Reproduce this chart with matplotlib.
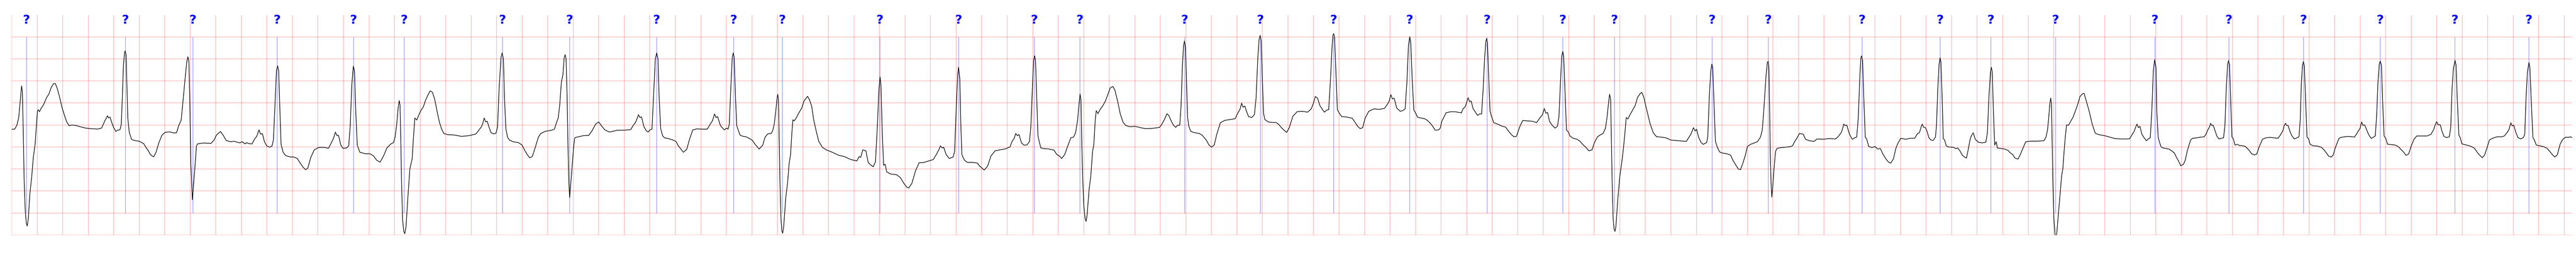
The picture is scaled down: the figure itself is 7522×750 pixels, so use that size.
import numpy as np
import matplotlib
matplotlib.use("Agg")
import matplotlib.pyplot as plt

# Signal ECG (temps en s, amplitude en mV), par morceaux
seg_a = [(0.000, -0.097), (0.023, -0.097), (0.041, -0.007), (0.055, 0.160), (0.067, 0.534), (0.078, 0.888),
         (0.084, 0.757), (0.091, -0.138), (0.098, -1.257), (0.107, -1.966), (0.115, -2.228), (0.122, -2.295),
         (0.131, -2.116), (0.143, -1.556), (0.157, -1.183), (0.170, -0.735), (0.184, -0.437), (0.194, -0.026),
         (0.202, 0.310), (0.208, 0.347), (0.218, 0.299), (0.232, 0.384), (0.250, 0.459), (0.274, 0.623),
         (0.292, 0.701), (0.310, 0.851), (0.328, 0.937), (0.343, 0.937), (0.359, 0.813), (0.376, 0.627),
         (0.394, 0.403), (0.412, 0.235), (0.430, 0.078), (0.451, -0.019), (0.472, 0.000), (0.508, -0.015),
         (0.544, -0.045), (0.580, -0.071), (0.628, -0.086), (0.675, -0.093), (0.705, -0.071), (0.729, 0.086),
         (0.751, 0.209), (0.759, 0.160), (0.771, 0.179), (0.783, 0.067), (0.797, -0.045), (0.816, -0.146),
         (0.831, -0.119), (0.849, -0.108), (0.859, 0.011), (0.867, 0.608), (0.876, 1.354), (0.885, 1.653),
         (0.890, 1.679), (0.897, 1.578), (0.903, 0.907), (0.910, 0.160), (0.921, -0.157), (0.931, -0.250),
         (0.939, -0.325), (0.963, -0.354), (0.999, -0.369), (1.035, -0.425), (1.053, -0.511), (1.071, -0.586),
         (1.089, -0.679), (1.113, -0.724), (1.131, -0.623), (1.154, -0.399), (1.178, -0.231), (1.202, -0.168),
         (1.238, -0.157), (1.274, -0.183), (1.292, -0.175), (1.310, -0.007), (1.328, 0.104), (1.340, 0.459),
         (1.358, 1.019), (1.372, 1.429), (1.381, 1.549), (1.389, 1.429), (1.396, 0.534), (1.404, -0.884),
         (1.416, -1.698), (1.425, -1.369), (1.438, -0.884), (1.448, -0.474), (1.457, -0.429), (1.502, -0.410),
         (1.562, -0.418), (1.586, -0.343), (1.604, -0.231), (1.636, -0.149), (1.657, -0.231), (1.681, -0.354),
         (1.717, -0.381), (1.741, -0.369), (1.787, -0.407)]

seg_b = [(1.806, -0.381), (1.830, -0.430), (1.842, -0.401), (1.860, -0.424), (1.884, -0.430), (1.902, -0.325),
         (1.920, -0.259), (1.938, -0.112), (1.950, -0.210), (1.964, -0.194), (1.980, -0.374), (1.998, -0.473),
         (2.022, -0.506), (2.040, -0.479), (2.051, -0.341), (2.066, 0.643), (2.075, 1.234), (2.084, 1.343),
         (2.092, 1.234), (2.102, 0.315), (2.111, -0.440), (2.127, -0.620), (2.147, -0.696), (2.183, -0.726),
         (2.207, -0.726), (2.237, -0.758), (2.261, -0.867), (2.285, -0.965), (2.303, -1.014), (2.320, -0.982),
         (2.344, -0.735), (2.371, -0.565), (2.405, -0.512), (2.441, -0.506), (2.483, -0.529), (2.507, -0.391),
         (2.521, -0.309), (2.537, -0.161), (2.549, -0.243), (2.561, -0.236), (2.579, -0.456), (2.596, -0.532),
         (2.624, -0.522), (2.641, -0.473), (2.653, -0.013), (2.665, 0.906), (2.677, 1.333), (2.686, 1.234),
         (2.696, 0.315), (2.708, -0.456), (2.728, -0.620), (2.770, -0.653), (2.806, -0.653), (2.836, -0.703),
         (2.860, -0.801), (2.887, -0.844), (2.914, -0.703), (2.940, -0.522), (2.974, -0.424), (2.992, -0.401),
         (3.004, -0.276), (3.016, -0.013), (3.028, 0.381), (3.037, 0.552), (3.043, 0.446), (3.049, -0.341),
         (3.055, -1.326), (3.063, -2.147), (3.072, -2.410), (3.080, -2.469), (3.090, -2.311), (3.105, -1.622),
         (3.120, -0.998), (3.138, -0.768), (3.147, -0.341), (3.159, 0.158), (3.174, 0.112), (3.189, 0.217),
         (3.207, 0.332), (3.225, 0.407), (3.243, 0.561), (3.261, 0.676), (3.279, 0.775), (3.297, 0.742),
         (3.315, 0.578), (3.333, 0.315), (3.351, 0.069), (3.369, -0.095), (3.387, -0.194), (3.417, -0.220),
         (3.465, -0.227), (3.525, -0.259), (3.584, -0.243), (3.638, -0.204), (3.666, -0.095)]

seg_c = [(3.678, -0.053), (3.690, 0.020), (3.702, 0.158), (3.714, 0.069), (3.726, 0.085), (3.740, -0.046),
         (3.756, -0.177), (3.780, -0.204), (3.795, -0.184), (3.807, -0.046), (3.819, 0.808), (3.834, 1.530),
         (3.843, 1.635), (3.853, 1.497), (3.861, 0.643), (3.872, -0.079), (3.885, -0.276), (3.899, -0.341),
         (3.929, -0.381), (3.971, -0.401), (3.999, -0.456), (4.019, -0.571), (4.039, -0.670), (4.059, -0.745),
         (4.079, -0.719), (4.103, -0.506), (4.127, -0.276), (4.145, -0.194), (4.181, -0.144), (4.229, -0.121),
         (4.253, -0.095), (4.265, 0.020), (4.283, 0.167), (4.295, 0.479), (4.307, 0.972), (4.319, 1.136),
         (4.329, 1.530), (4.337, 1.596), (4.344, 1.497), (4.352, 0.643), (4.359, -0.506), (4.366, -1.326),
         (4.372, -1.648), (4.378, -1.425), (4.390, -0.998), (4.402, -0.538), (4.411, -0.299), (4.420, -0.282),
         (4.444, -0.266), (4.480, -0.243), (4.522, -0.236), (4.546, -0.138), (4.576, 0.020), (4.600, 0.069),
         (4.624, -0.030), (4.648, -0.112), (4.684, -0.161), (4.744, -0.121), (4.804, -0.118), (4.851, -0.105),
         (4.869, -0.013), (4.887, 0.053), (4.899, 0.135), (4.911, 0.233), (4.923, 0.167), (4.935, 0.184),
         (4.953, -0.030), (4.971, -0.128), (4.987, -0.161), (5.001, -0.112), (5.017, -0.095), (5.029, 0.643),
         (5.043, 1.497), (5.054, 1.635), (5.064, 1.497), (5.073, 0.643), (5.085, -0.079), (5.100, -0.243),
         (5.115, -0.292), (5.145, -0.309), (5.181, -0.341), (5.205, -0.374), (5.223, -0.473), (5.241, -0.538),
         (5.263, -0.620), (5.289, -0.555), (5.313, -0.309), (5.337, -0.112), (5.367, -0.089), (5.414, -0.095),
         (5.450, -0.095), (5.474, 0.020), (5.492, 0.102), (5.507, 0.250), (5.519, 0.167), (5.531, 0.190),
         (5.544, 0.069)]

seg_d = [(5.553, -0.013), (5.568, -0.062), (5.583, -0.112), (5.601, -0.072), (5.613, -0.095), (5.623, 0.020),
         (5.634, 0.808), (5.646, 1.530), (5.654, 1.635), (5.661, 1.530), (5.671, 0.643), (5.681, -0.013),
         (5.690, -0.095), (5.706, -0.227), (5.724, -0.253), (5.754, -0.269), (5.777, -0.302), (5.801, -0.341),
         (5.825, -0.440), (5.857, -0.548), (5.885, -0.456), (5.903, -0.276), (5.925, -0.200), (5.951, -0.194),
         (5.963, -0.128), (5.975, 0.020), (5.987, 0.315), (5.996, 0.578), (6.002, 0.699), (6.008, 0.578),
         (6.014, -0.341), (6.020, -1.326), (6.028, -2.147), (6.035, -2.410), (6.041, -2.459), (6.049, -2.311),
         (6.065, -1.655), (6.079, -1.326), (6.092, -0.867), (6.103, -0.670), (6.113, -0.177), (6.121, 0.118),
         (6.131, 0.092), (6.149, 0.167), (6.169, 0.282), (6.190, 0.381), (6.208, 0.545), (6.224, 0.604),
         (6.236, 0.650), (6.250, 0.578), (6.268, 0.430), (6.284, 0.118), (6.304, -0.144), (6.324, -0.374),
         (6.352, -0.506), (6.382, -0.565), (6.430, -0.620), (6.478, -0.686), (6.526, -0.719), (6.574, -0.785),
         (6.622, -0.817), (6.640, -0.719), (6.652, -0.735), (6.669, -0.565), (6.693, -0.588), (6.711, -0.850),
         (6.729, -0.906), (6.751, -0.949), (6.768, -0.834), (6.783, -0.013), (6.795, 0.808), (6.804, 1.093),
         (6.811, 0.906), (6.821, -0.177), (6.832, -0.916), (6.844, -0.893), (6.856, -1.064), (6.886, -1.113),
         (6.933, -1.129), (6.963, -1.195), (6.987, -1.310), (7.011, -1.408), (7.029, -1.431), (7.053, -1.326),
         (7.083, -1.031), (7.110, -0.860), (7.149, -0.850), (7.185, -0.817), (7.221, -0.785), (7.245, -0.670),
         (7.266, -0.555), (7.277, -0.473), (7.290, -0.522), (7.302, -0.506), (7.322, -0.670), (7.346, -0.762),
         (7.376, -0.729), (7.388, -0.604), (7.400, 0.315), (7.412, 1.136), (7.419, 1.310)]

seg_e = [(7.429, 1.037), (7.437, -0.013), (7.445, -0.670), (7.454, -0.735), (7.466, -0.801), (7.488, -0.850),
         (7.530, -0.850), (7.567, -0.867), (7.583, -0.932), (7.604, -0.982), (7.620, -1.024), (7.647, -0.932),
         (7.673, -0.703), (7.705, -0.588), (7.742, -0.565), (7.785, -0.545), (7.822, -0.499), (7.838, -0.374),
         (7.854, -0.309), (7.867, -0.194), (7.880, -0.243), (7.893, -0.217), (7.912, -0.407), (7.931, -0.456),
         (7.954, -0.456), (7.975, -0.374), (7.986, -0.013), (7.997, 0.808), (8.007, 1.464), (8.015, 1.573),
         (8.022, 1.464), (8.031, 0.643), (8.041, -0.243), (8.052, -0.391), (8.064, -0.522), (8.092, -0.538),
         (8.124, -0.545), (8.167, -0.571), (8.188, -0.670), (8.209, -0.703), (8.227, -0.762), (8.251, -0.670),
         (8.273, -0.489), (8.299, -0.292), (8.320, -0.276), (8.336, -0.177), (8.352, 0.118), (8.363, 0.479),
         (8.371, 0.703), (8.378, 0.578), (8.384, -0.341), (8.391, -1.162), (8.400, -1.819), (8.410, -2.114),
         (8.418, -2.190), (8.426, -2.049), (8.442, -1.458), (8.455, -1.162), (8.469, -0.604), (8.479, -0.440),
         (8.490, 0.118), (8.498, 0.325), (8.511, 0.256), (8.527, 0.348), (8.548, 0.430), (8.570, 0.545),
         (8.591, 0.709), (8.607, 0.840), (8.628, 0.873), (8.644, 0.791), (8.665, 0.545), (8.686, 0.250),
         (8.707, 0.069), (8.729, -0.013), (8.760, -0.039), (8.803, -0.030), (8.845, -0.062), (8.888, -0.085),
         (8.930, -0.079), (8.993, -0.056), (9.009, 0.003), (9.031, 0.118), (9.052, 0.256), (9.066, 0.217)]

seg_f = [(9.086, 0.086), (9.103, -0.007), (9.121, -0.056), (9.134, -0.007), (9.152, -0.007), (9.162, 0.422),
         (9.173, 1.354), (9.182, 1.802), (9.189, 1.907), (9.197, 1.765), (9.205, 0.981), (9.214, 0.160),
         (9.223, -0.026), (9.237, -0.138), (9.257, -0.168), (9.305, -0.194), (9.327, -0.231), (9.360, -0.343),
         (9.381, -0.455), (9.401, -0.504), (9.422, -0.455), (9.442, -0.213), (9.470, 0.049), (9.504, 0.104),
         (9.545, 0.123), (9.586, 0.142), (9.607, 0.272), (9.623, 0.347), (9.637, 0.496), (9.648, 0.403),
         (9.662, 0.429), (9.675, 0.310), (9.691, 0.190), (9.716, 0.168), (9.737, 0.235), (9.750, 0.608),
         (9.764, 1.541), (9.774, 1.951), (9.782, 2.034), (9.790, 1.914), (9.798, 1.168), (9.808, 0.272),
         (9.819, 0.123), (9.846, 0.067), (9.880, 0.056), (9.908, 0.056), (9.928, 0.011), (9.949, -0.063),
         (9.969, -0.119), (9.990, -0.168), (10.010, -0.063), (10.038, 0.198), (10.072, 0.302), (10.113, 0.310),
         (10.154, 0.291), (10.182, 0.366), (10.200, 0.496), (10.214, 0.646), (10.232, 0.608), (10.250, 0.440),
         (10.271, 0.347), (10.285, 0.291), (10.305, 0.340), (10.319, 0.347), (10.332, 0.981), (10.346, 1.802),
         (10.353, 2.045), (10.358, 2.075), (10.365, 1.989), (10.376, 1.168), (10.387, 0.347), (10.401, 0.272),
         (10.421, 0.190), (10.462, 0.179), (10.503, 0.153), (10.524, 0.067), (10.545, -0.026), (10.565, -0.082),
         (10.585, -0.063), (10.605, 0.160), (10.633, 0.310), (10.674, 0.366), (10.715, 0.354), (10.756, 0.377),
         (10.777, 0.459), (10.793, 0.541), (10.806, 0.690), (10.818, 0.590), (10.832, 0.608), (10.852, 0.384),
         (10.880, 0.310), (10.900, 0.328), (10.918, 0.366), (10.932, 0.981), (10.944, 1.802), (10.954, 2.004),
         (10.962, 1.877), (10.973, 1.056), (10.986, 0.340), (11.000, 0.272), (11.014, 0.179), (11.037, 0.160),
         (11.071, 0.142), (11.092, 0.104), (11.112, 0.049), (11.133, -0.026), (11.153, -0.119)]

seg_g = [(11.180, -0.112), (11.193, -0.072), (11.205, 0.085), (11.223, 0.184), (11.238, 0.276), (11.273, 0.299),
         (11.310, 0.299), (11.359, 0.276), (11.371, 0.364), (11.390, 0.420), (11.400, 0.512), (11.411, 0.620),
         (11.423, 0.529), (11.435, 0.545), (11.451, 0.364), (11.467, 0.299), (11.485, 0.217), (11.501, 0.250),
         (11.517, 0.250), (11.529, 0.808), (11.541, 1.530), (11.550, 1.891), (11.556, 1.963), (11.563, 1.858),
         (11.572, 1.136), (11.583, 0.315), (11.596, 0.184), (11.612, 0.053), (11.642, 0.020), (11.679, -0.030),
         (11.704, -0.046), (11.729, -0.144), (11.753, -0.227), (11.772, -0.269), (11.790, -0.259), (11.815, -0.046),
         (11.839, 0.102), (11.876, 0.092), (11.913, 0.085), (11.948, 0.053), (11.975, 0.167), (11.994, 0.233),
         (12.008, 0.374), (12.021, 0.266), (12.034, 0.282), (12.049, 0.085), (12.067, 0.003), (12.092, -0.072),
         (12.111, -0.030), (12.123, 0.184), (12.135, 0.972), (12.145, 1.563), (12.153, 1.668), (12.160, 1.563),
         (12.170, 0.808), (12.182, -0.112), (12.197, -0.161), (12.209, -0.250), (12.234, -0.302), (12.265, -0.325),
         (12.289, -0.374), (12.314, -0.456), (12.339, -0.522), (12.357, -0.588), (12.382, -0.565), (12.400, -0.407),
         (12.425, -0.269), (12.446, -0.227), (12.468, -0.194), (12.487, -0.079), (12.499, 0.151), (12.512, 0.512),
         (12.520, 0.699), (12.528, 0.578), (12.534, -0.341), (12.540, -1.326), (12.548, -2.147), (12.555, -2.361),
         (12.562, -2.416), (12.569, -2.311), (12.585, -1.655), (12.600, -1.162), (12.616, -0.834), (12.628, -0.538),
         (12.640, -0.177), (12.650, 0.167), (12.663, 0.135), (12.680, 0.233), (12.702, 0.348), (12.721, 0.446),
         (12.739, 0.627), (12.757, 0.703), (12.772, 0.742), (12.788, 0.627), (12.813, 0.315), (12.838, 0.020),
         (12.862, -0.177), (12.887, -0.266), (12.924, -0.276), (12.961, -0.292), (12.998, -0.341), (13.057, -0.358)]

seg_h = [(13.085, -0.364), (13.121, -0.374), (13.139, -0.292), (13.157, -0.210), (13.177, -0.062), (13.190, -0.138),
         (13.201, -0.095), (13.217, -0.276), (13.235, -0.391), (13.253, -0.440), (13.280, -0.401), (13.289, -0.276),
         (13.301, 0.643), (13.313, 1.234), (13.321, 1.382), (13.328, 1.300), (13.338, 0.479), (13.349, -0.374),
         (13.364, -0.506), (13.381, -0.611), (13.402, -0.637), (13.438, -0.653), (13.468, -0.686), (13.486, -0.801),
         (13.510, -0.916), (13.528, -0.998), (13.546, -1.014), (13.564, -0.867), (13.582, -0.703), (13.600, -0.489),
         (13.624, -0.440), (13.654, -0.407), (13.678, -0.381), (13.702, -0.276), (13.716, -0.112), (13.726, 0.250),
         (13.738, 0.775), (13.746, 1.136), (13.756, 1.415), (13.762, 1.448), (13.768, 1.300), (13.773, 0.479),
         (13.779, -0.670), (13.785, -1.326), (13.791, -1.638), (13.800, -1.326), (13.808, -0.998), (13.820, -0.604),
         (13.830, -0.538), (13.844, -0.522), (13.893, -0.506), (13.940, -0.489), (13.953, -0.473), (13.971, -0.374),
         (13.989, -0.292), (14.007, -0.194), (14.037, -0.210), (14.055, -0.325), (14.085, -0.358), (14.121, -0.374),
         (14.145, -0.318), (14.193, -0.325), (14.241, -0.309), (14.289, -0.318), (14.313, -0.259), (14.337, -0.161),
         (14.355, 0.020), (14.363, -0.013), (14.378, -0.003), (14.399, -0.210), (14.421, -0.325), (14.439, -0.292),
         (14.456, -0.276), (14.468, 0.151), (14.481, 1.136), (14.489, 1.530), (14.495, 1.569), (14.502, 1.464),
         (14.511, 0.643), (14.523, -0.276), (14.535, -0.325), (14.550, -0.489), (14.576, -0.512), (14.600, -0.489),
         (14.618, -0.545), (14.642, -0.538), (14.660, -0.653), (14.684, -0.768), (14.702, -0.834), (14.722, -0.867),
         (14.744, -0.768), (14.762, -0.538), (14.780, -0.407), (14.801, -0.302), (14.840, -0.325), (14.876, -0.302),
         (14.910, -0.302), (14.933, -0.194)]

seg_i = [(14.947, -0.177), (14.959, -0.062), (14.969, 0.020), (14.981, -0.053), (14.995, -0.062), (15.007, -0.144),
         (15.022, -0.292), (15.037, -0.341), (15.055, -0.351), (15.073, -0.276), (15.081, -0.013), (15.091, 0.808),
         (15.101, 1.366), (15.109, 1.523), (15.116, 1.431), (15.125, 0.643), (15.134, -0.309), (15.145, -0.341),
         (15.157, -0.473), (15.175, -0.499), (15.211, -0.506), (15.235, -0.538), (15.247, -0.522), (15.265, -0.588),
         (15.283, -0.686), (15.301, -0.729), (15.316, -0.752), (15.331, -0.538), (15.343, -0.341), (15.355, -0.243),
         (15.369, -0.177), (15.385, -0.325), (15.409, -0.391), (15.438, -0.407), (15.468, -0.391), (15.480, -0.177),
         (15.492, 0.643), (15.504, 1.202), (15.511, 1.310), (15.518, 1.202), (15.527, 0.315), (15.537, -0.456),
         (15.549, -0.381), (15.558, -0.522), (15.582, -0.532), (15.612, -0.545), (15.642, -0.578), (15.660, -0.637),
         (15.678, -0.670), (15.696, -0.752), (15.720, -0.775), (15.738, -0.670), (15.762, -0.506), (15.780, -0.381),
         (15.822, -0.368), (15.869, -0.368), (15.923, -0.358), (15.939, -0.276), (15.951, -0.112), (15.960, 0.151),
         (15.969, 0.479), (15.976, 0.611), (15.982, 0.479), (15.987, -0.341), (15.993, -1.326), (16.001, -2.147),
         (16.010, -2.475), (16.017, -2.600), (16.025, -2.410), (16.037, -1.983), (16.049, -1.589), (16.061, -1.162),
         (16.071, -0.998), (16.079, -0.670), (16.088, -0.341), (16.100, 0.003), (16.115, -0.007), (16.133, 0.085),
         (16.151, 0.177), (16.169, 0.315), (16.187, 0.463), (16.205, 0.643), (16.223, 0.703), (16.237, 0.719),
         (16.253, 0.561), (16.277, 0.315), (16.301, 0.020), (16.325, -0.187), (16.349, -0.217), (16.397, -0.243),
         (16.439, -0.276), (16.480, -0.309), (16.528, -0.318), (16.570, -0.318), (16.594, -0.315), (16.612, -0.227),
         (16.630, -0.144), (16.642, -0.046), (16.652, 0.020), (16.663, -0.062), (16.675, -0.030), (16.690, -0.210),
         (16.708, -0.292), (16.726, -0.358), (16.742, -0.315), (16.756, -0.292), (16.768, 0.315), (16.780, 1.234),
         (16.790, 1.481), (16.801, 1.300), (16.807, 0.315)]

seg_j = [(16.818, -0.276), (16.825, -0.358), (16.839, -0.489), (16.855, -0.522), (16.876, -0.532), (16.902, -0.548),
         (16.924, -0.588), (16.945, -0.637), (16.961, -0.735), (16.977, -0.817), (16.995, -0.926), (17.016, -0.893),
         (17.030, -0.801), (17.046, -0.588), (17.072, -0.341), (17.088, -0.302), (17.120, -0.292), (17.152, -0.276),
         (17.178, -0.269), (17.194, -0.204), (17.207, -0.112), (17.219, -0.053), (17.229, 0.036), (17.239, -0.013),
         (17.249, -0.007), (17.263, -0.128), (17.279, -0.259), (17.295, -0.318), (17.311, -0.302), (17.330, -0.292),
         (17.341, -0.013), (17.351, 0.808), (17.362, 1.366), (17.369, 1.464), (17.377, 1.366), (17.385, 0.643),
         (17.396, -0.276), (17.406, -0.309), (17.420, -0.456), (17.438, -0.440), (17.454, -0.466), (17.481, -0.473),
         (17.502, -0.489), (17.518, -0.538), (17.534, -0.588), (17.550, -0.653), (17.571, -0.680), (17.590, -0.663),
         (17.608, -0.506), (17.635, -0.325), (17.661, -0.292), (17.693, -0.282), (17.725, -0.292), (17.757, -0.302),
         (17.772, -0.243), (17.794, -0.138), (17.806, -0.013), (17.815, 0.036), (17.825, -0.013), (17.836, -0.013),
         (17.850, -0.144), (17.865, -0.243), (17.884, -0.318), (17.905, -0.292), (17.921, -0.269), (17.931, 0.118),
         (17.940, 0.972), (17.949, 1.366), (17.956, 1.441), (17.963, 1.333), (17.972, 0.643), (17.984, -0.276),
         (17.995, -0.309), (18.009, -0.440), (18.032, -0.473), (18.064, -0.479), (18.096, -0.506), (18.117, -0.565),
         (18.136, -0.637), (18.154, -0.709), (18.173, -0.729), (18.189, -0.686), (18.207, -0.506), (18.234, -0.309),
         (18.250, -0.282), (18.276, -0.269), (18.308, -0.259), (18.340, -0.269), (18.356, -0.276), (18.372, -0.204),
         (18.388, -0.128), (18.400, -0.079), (18.412, 0.069), (18.423, -0.013), (18.435, 0.003)]

seg_k = [(18.450, -0.101), (18.466, -0.213), (18.487, -0.306), (18.503, -0.280), (18.519, -0.250), (18.530, 0.235),
         (18.540, 0.981), (18.551, 1.392), (18.558, 1.448), (18.567, 1.354), (18.578, 0.422), (18.588, -0.250),
         (18.601, -0.306), (18.615, -0.437), (18.636, -0.444), (18.673, -0.455), (18.700, -0.493), (18.721, -0.556),
         (18.743, -0.623), (18.759, -0.690), (18.780, -0.660), (18.801, -0.474), (18.822, -0.325), (18.844, -0.250),
         (18.881, -0.250), (18.924, -0.250), (18.955, -0.213), (18.977, -0.101), (18.987, -0.007), (19.000, 0.075),
         (19.011, 0.004), (19.028, 0.004), (19.041, -0.138), (19.057, -0.261), (19.078, -0.287), (19.099, -0.269),
         (19.110, -0.063), (19.120, 0.795), (19.131, 1.280), (19.144, 1.466), (19.152, 1.354), (19.161, 0.608),
         (19.174, -0.231), (19.184, -0.287), (19.198, -0.429), (19.216, -0.444), (19.248, -0.466), (19.275, -0.493),
         (19.296, -0.530), (19.323, -0.642), (19.341, -0.698), (19.357, -0.743), (19.376, -0.679), (19.397, -0.493),
         (19.413, -0.343), (19.434, -0.306), (19.472, -0.269), (19.509, -0.269), (19.530, -0.250), (19.551, -0.175),
         (19.567, -0.101), (19.581, 0.049), (19.591, -0.019), (19.604, -0.007), (19.621, -0.175), (19.637, -0.287),
         (19.658, -0.317), (19.679, -0.287), (19.690, -0.213), (19.700, 0.608), (19.711, 1.205), (19.723, 1.418),
         (19.730, 1.317), (19.740, 0.608), (19.754, -0.287), (19.764, -0.332), (19.780, -0.455), (19.807, -0.474),
         (19.839, -0.493), (19.865, -0.530), (19.887, -0.604), (19.908, -0.679), (19.926, -0.728), (19.945, -0.679),
         (19.967, -0.437), (19.988, -0.325), (20.009, -0.280), (20.036, -0.280), (20.046, -0.269), (20.062, -0.287)]

# Annotations des battements (symbole '?')
beat_t = [0.116, 0.890, 1.420, 2.080, 2.679, 3.076, 3.844, 4.372, 5.053, 5.655, 6.038, 6.802,
          7.419, 8.012, 8.369, 9.189, 9.782, 10.358, 10.953, 11.558, 12.153, 12.558, 13.322, 13.763,
          14.496, 15.110, 15.507, 16.013, 16.790, 17.370, 17.956, 18.558, 19.143, 19.722]
beat_sym = ["?"] * len(beat_t)

signal = np.array(seg_a + seg_b + seg_c + seg_d + seg_e + seg_f + seg_g + seg_h + seg_i + seg_j + seg_k)
t = signal[:, 0]
v = signal[:, 1]

# Figure
fig = plt.figure(figsize=(75.22, 7.5), dpi=100)
ax = fig.add_axes([34 / 7522, 64 / 750, 7477 / 7522, 642 / 750])

ax.set_xlim(0, 20.062)
ax.set_ylim(-2.5, 2.495)

# grille papier ECG
ax.set_xticks(np.arange(0, 20.01, 0.2))
ax.set_yticks(np.arange(-2.5, 2.01, 0.5))
ax.grid(True, color="red", alpha=0.25, linewidth=1.5)
ax.set_axisbelow(True)
ax.tick_params(length=0, labelbottom=False, labelleft=False)
for s in ax.spines.values():
    s.set_visible(False)

ax.plot(t, v, color="black", linewidth=1.3, zorder=3)

ax.vlines(beat_t, -2.0, 2.0, color="blue", alpha=0.5, linewidth=1, zorder=2)
for bt, sym in zip(beat_t, beat_sym):
    ax.text(bt, 2.30, sym, ha="center", va="baseline", color="blue",
            fontsize=26, fontweight="bold", zorder=4)

fig.savefig("out.png", dpi=100)
